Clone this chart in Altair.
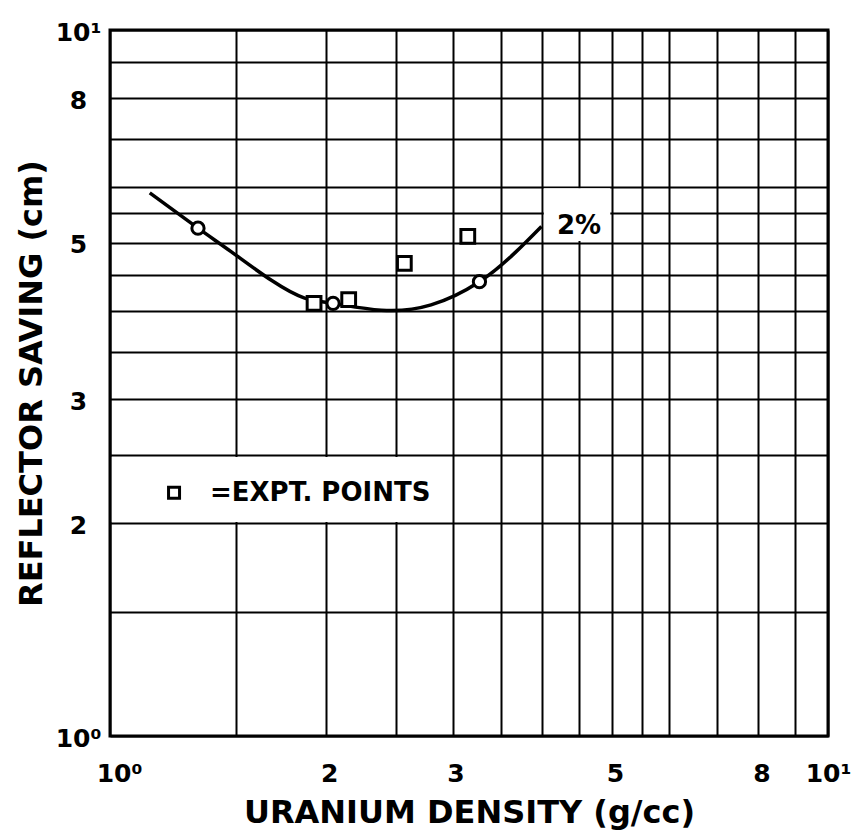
import altair as alt
import pandas as pd

# ---- data ----
curve_x = [1.136, 1.326, 1.476, 1.678, 1.867, 2.045, 2.387, 2.80, 3.27, 3.66, 3.99]
curve_y = [5.88, 5.24, 4.85, 4.42, 4.17, 4.10, 4.01, 4.08, 4.40, 4.83, 5.27]

calc_x = [1.326, 2.045, 3.27]          # open circles on the curve
calc_y = [5.24, 4.10, 4.40]

expt_x = [1.924, 2.15, 2.57, 3.15]     # open squares (experimental points)
expt_y = [4.10, 4.15, 4.67, 5.10]

grid_values = [1, 1.5, 2, 2.5, 3, 3.5, 4, 4.5, 5, 5.5, 6, 7, 8, 9, 10]
x_label_values = [1, 2, 3, 5, 8, 10]
x_label_text = ["10\u2070", "2", "3", "5", "8", "10\u00b9"]
y_label_values = [1, 2, 3, 5, 8, 10]
y_label_text = ["10\u2070", "2", "3", "5", "8", "10\u00b9"]

# blank (erased) cells behind annotations
box_x1 = [1.006, 4.02]
box_x2 = [2.985, 4.975]
box_y1 = [2.01, 5.025]
box_y2 = [2.485, 5.97]

legend_sym_x = [1.228]
legend_sym_y = [2.21]
legend_text_x = [1.378]
legend_text_y = [2.21]
legend_text = ["=EXPT. POINTS"]

curve_label_x = [4.50]
curve_label_y = [5.28]
curve_label = ["2%"]

FONT = "DejaVu Sans"


def label_expr(values, texts):
    parts = []
    for v, t in zip(values, texts):
        parts.append(f"datum.value == {v} ? '{t}' : ")
    return "".join(parts) + "''"


xscale = alt.Scale(type="log", domain=[1, 10], nice=False, zero=False)
yscale = alt.Scale(type="log", domain=[1, 10], nice=False, zero=False)

x_label_offset = {
    "condition": [
        {"test": "datum.value == 1", "value": 9},
        {"test": "datum.value == 10", "value": 0},
    ],
    "value": 3,
}

xaxis = alt.Axis(
    values=grid_values, grid=True, gridColor="black", gridWidth=2, gridOpacity=1,
    ticks=False, tickSize=0, domain=False,
    labelExpr=label_expr(x_label_values, x_label_text),
    labelFont=FONT, labelFontSize=25, labelFontWeight="bold", labelColor="black",
    labelBaseline="alphabetic", labelPadding=45, labelOffset=x_label_offset,
    labelOverlap=False, labelFlush=False, labelBound=False,
    title="URANIUM DENSITY (g/cc)", titleFont=FONT, titleFontSize=32,
    titleFontWeight="bold", titleColor="black", titleBaseline="alphabetic",
    titleY=86, titleX=359, titleAlign="center",
)
yaxis = alt.Axis(
    values=grid_values, grid=True, gridColor="black", gridWidth=2, gridOpacity=1,
    ticks=False, tickSize=0, domain=False,
    labelExpr=label_expr(y_label_values, y_label_text),
    labelFont=FONT, labelFontSize=25, labelFontWeight="bold", labelColor="black",
    labelAlign="center", labelBaseline="middle", labelPadding=32, labelOffset=2,
    labelOverlap=False, labelFlush=False, labelBound=False,
    title="REFLECTOR SAVING (cm)", titleFont=FONT, titleFontSize=32,
    titleFontWeight="bold", titleColor="black", titleBaseline="alphabetic",
    titleAngle=-90, titleX=-69, titleY=353, titleAlign="center",
)

curve_df = pd.DataFrame({"x": curve_x, "y": curve_y})
calc_df = pd.DataFrame({"x": calc_x, "y": calc_y})
expt_df = pd.DataFrame({"x": expt_x, "y": expt_y})
box_df = pd.DataFrame({"x1": box_x1, "x2": box_x2, "y1": box_y1, "y2": box_y2})
leg_sym_df = pd.DataFrame({"x": legend_sym_x, "y": legend_sym_y})
leg_txt_df = pd.DataFrame({"x": legend_text_x, "y": legend_text_y, "t": legend_text})
lab_df = pd.DataFrame({"x": curve_label_x, "y": curve_label_y, "t": curve_label})

boxes = alt.Chart(box_df).mark_rect(color="white", opacity=1).encode(
    x=alt.X("x1:Q", scale=xscale, axis=xaxis),
    x2="x2:Q",
    y=alt.Y("y1:Q", scale=yscale, axis=yaxis),
    y2="y2:Q",
)

curve = alt.Chart(curve_df).mark_line(
    color="black", strokeWidth=3.5, interpolate="natural"
).encode(x=alt.X("x:Q", scale=xscale), y=alt.Y("y:Q", scale=yscale))

squares = alt.Chart(expt_df).mark_point(
    shape="square", filled=True, fill="white", stroke="black",
    strokeWidth=3, size=190, opacity=1,
).encode(x=alt.X("x:Q", scale=xscale), y=alt.Y("y:Q", scale=yscale))

circles = alt.Chart(calc_df).mark_point(
    shape="circle", filled=True, fill="white", stroke="black",
    strokeWidth=3, size=150, opacity=1,
).encode(x=alt.X("x:Q", scale=xscale), y=alt.Y("y:Q", scale=yscale))

leg_sym = alt.Chart(leg_sym_df).mark_point(
    shape="square", filled=True, fill="white", stroke="black",
    strokeWidth=3, size=121, opacity=1,
).encode(x=alt.X("x:Q", scale=xscale), y=alt.Y("y:Q", scale=yscale))

leg_txt = alt.Chart(leg_txt_df).mark_text(
    align="left", baseline="middle", font=FONT, fontSize=26,
    fontWeight="bold", color="black",
).encode(x=alt.X("x:Q", scale=xscale), y=alt.Y("y:Q", scale=yscale), text="t:N")

lab_txt = alt.Chart(lab_df).mark_text(
    align="center", baseline="middle", font=FONT, fontSize=26,
    fontWeight="bold", color="black",
).encode(x=alt.X("x:Q", scale=xscale), y=alt.Y("y:Q", scale=yscale), text="t:N")

chart = alt.layer(
    boxes, curve, squares, circles, leg_sym, leg_txt, lab_txt
).properties(
    width=718, height=706,
    autosize=alt.AutoSizeParams(type="none"),
    padding={"left": 102, "top": 22, "right": 26, "bottom": 96},
    background="white",
).configure_view(
    stroke="black", strokeWidth=3,
)

chart.save("out.html", embed_options={"renderer": "svg", "actions": False})
